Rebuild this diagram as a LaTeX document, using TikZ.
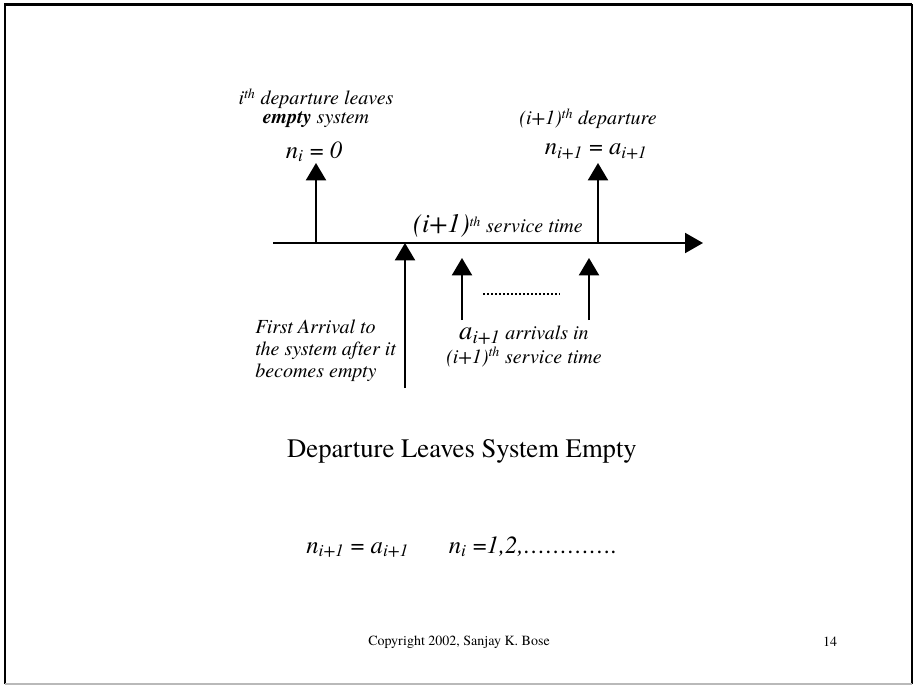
\documentclass[tikz,border=0pt]{standalone}
\usepackage{fontspec}
\setmainfont{TeX Gyre Termes}
\usetikzlibrary{arrows.meta}

\begin{document}
\begin{tikzpicture}[x=0.75pt, y=-0.75pt,
    evtarrow/.style={-{Triangle[length=13pt,width=15pt]}, line width=1.5pt},
    lbl/.style={font=\fontsize{15}{16.5}\selectfont\itshape, inner sep=0pt, align=center},
    eqn/.style={font=\fontsize{18.5}{22}\selectfont, inner sep=0pt}]
    \useasboundingbox (0,0) rectangle (915,685);

    % Slide frame
    \draw[line width=1.65pt] (5,684) -- (5,4.5) -- (912,4.5);
    \draw[line width=1.1pt] (912,4.5) -- (912,684);
    \draw[gray!55, line width=0.8pt] (5,684) -- (912,684);

    % Time axis
    \coordinate (t0) at (273,243);
    \coordinate (tend) at (703,243);
    \draw[evtarrow, -{Triangle[length=13.5pt,width=15pt]}] (t0) -- (tend);

    % Departures (above the axis)
    \coordinate (dep1) at (316,243);
    \coordinate (dep1top) at (316,163);
    \coordinate (dep2) at (598,243);
    \coordinate (dep2top) at (598,163);
    \draw[evtarrow] (dep1) -- (dep1top);
    \draw[evtarrow] (dep2) -- (dep2top);

    % Arrivals (below the axis)
    \coordinate (arr1) at (405,388);
    \coordinate (arr1top) at (405,243);
    \coordinate (arr2) at (462,320);
    \coordinate (arr2top) at (462,258);
    \coordinate (arr3) at (589,320);
    \coordinate (arr3top) at (589,258);
    \draw[evtarrow] (arr1) -- (arr1top);
    \draw[evtarrow] (arr2) -- (arr2top);
    \draw[evtarrow] (arr3) -- (arr3top);
    \coordinate (dotsL) at (483,294);
    \coordinate (dotsR) at (560,294);
    \draw[line width=0.9pt, dash pattern=on 1.2pt off 1.8pt] (dotsL) -- (dotsR);

    % Labels of the departures (base = last line)
    \node[lbl, font=\fontsize{15}{13.5}\selectfont\itshape, anchor=base] (deplbl1) at (316,123)
        {i\textsuperscript{th} departure leaves\\\textbf{empty} system};
    \node[eqn, anchor=base] (nzero) at (314,158) {\textit{n\textsubscript{i}} = \textit{0}};
    \node[lbl, anchor=base] (deplbl2) at (588,125) {(i+1)\textsuperscript{th} departure};
    \node[eqn, anchor=base] (nnext) at (596,155)
        {\textit{n\textsubscript{i+1}} = \textit{a\textsubscript{i+1}}};

    % Service time
    \node[lbl, anchor=base] (service) at (498,233)
        {{\fontsize{20}{24}\selectfont (i+1)}\textsuperscript{th} service time};

    % Labels of the arrivals
    \node[lbl, align=left, anchor=base west] (firstarr) at (255,377)
        {First Arrival to\\the system after it\\becomes empty};
    \node[lbl, font=\fontsize{15}{17.5}\selectfont\itshape, anchor=base] (arrlbl) at (524,363)
        {{\fontsize{20}{24}\selectfont a\textsubscript{i+1}} arrivals in\\(i+1)\textsuperscript{th} service time};

    % Title and relation
    \node[eqn, font=\fontsize{20}{24}\selectfont, anchor=base] (title) at (462,457)
        {Departure Leaves System Empty};
    \node[eqn, anchor=base] (relation) at (462,553)
        {\textit{n\textsubscript{i+1}} = \textit{a\textsubscript{i+1}}\hspace{30pt}\textit{n\textsubscript{i}} =\textit{1,2,………….}};

    % Footer
    \node[font=\fontsize{10.5}{12}\selectfont, inner sep=0pt, anchor=base] (copy) at (459,645)
        {Copyright 2002, Sanjay K. Bose};
    \node[font=\fontsize{10.5}{12}\selectfont, inner sep=0pt, anchor=base] (page) at (830,646) {14};
\end{tikzpicture}
\end{document}
